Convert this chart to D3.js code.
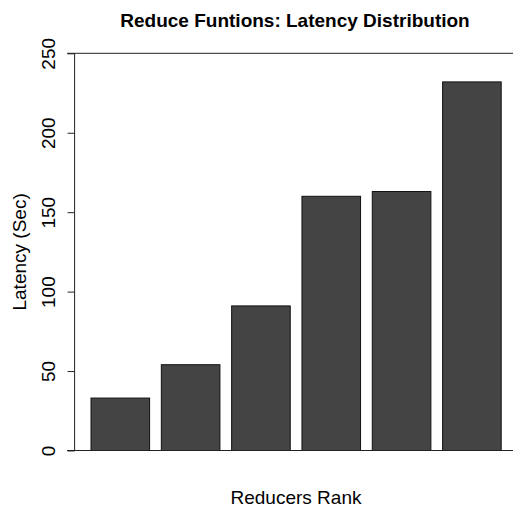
<!DOCTYPE html>
<html>
<head>
<meta charset="utf-8">
<script src="https://cdn.jsdelivr.net/npm/d3@7"></script>
<style>
  body { margin: 0; background: #fff; }
  text { font-family: "Liberation Sans", Arial, sans-serif; }
</style>
</head>
<body>
<svg width="513" height="512"></svg>
<script>
'use strict';

// reducer ranks and their latency in seconds
var ranks = [1, 2, 3, 4, 5, 6];
var latency = [33, 54, 91, 160, 163, 232];
var yTicks = [0, 50, 100, 150, 200, 250];

var W = 513, H = 512;
var FS = '19px';
var svg = d3.select('svg');

// R barplot geometry: width 1, space 0.2, xlim extended by 4%
var x = d3.scaleLinear().domain([-0.08, 7.48]).range([74.6, 517.6]);
var y = d3.scaleLinear().domain([0, 250]).range([450.5, 53.3]);

// bars
svg.selectAll('rect.bar')
  .data(ranks)
  .enter()
  .append('rect')
    .attr('class', 'bar')
    .attr('x', (d, i) => x(0.2 + i * 1.2))
    .attr('width', x(1) - x(0))
    .attr('y', (d, i) => y(latency[i]))
    .attr('height', (d, i) => y(0) - y(latency[i]))
    .style('fill', '#444444')
    .style('stroke', '#111')
    .style('stroke-width', 1);

// horizontal lines at bottom and top of the value range
svg.selectAll('line.hline')
  .data([0, 250])
  .enter()
  .append('line')
    .attr('x1', 67).attr('x2', W)
    .attr('y1', d => y(d)).attr('y2', d => y(d))
    .style('stroke', '#222')
    .style('stroke-width', 1);

// y axis, R style
var yAxis = d3.axisLeft(y).tickValues(yTicks).tickSize(7).tickPadding(0).tickFormat(d3.format('d'));
var g = svg.append('g').attr('transform', 'translate(74.6,0)').call(yAxis);
g.select('.domain').attr('d', 'M0,' + y(0) + 'V' + y(250)).style('stroke', '#222');
g.selectAll('.tick line').style('stroke', '#222');
g.selectAll('.tick text')
  .attr('transform', 'translate(-20,0) rotate(-90)')
  .attr('x', 0).attr('dy', 0).attr('y', 0)
  .style('text-anchor', 'middle')
  .style('font-size', FS)
  .style('fill', '#000');

// title and axis labels
svg.append('text')
  .attr('x', 295).attr('y', 27)
  .attr('text-anchor', 'middle')
  .style('font-size', FS)
  .style('font-weight', 'bold')
  .text('Reduce Funtions: Latency Distribution');

svg.append('text')
  .attr('x', 296).attr('y', 504)
  .attr('text-anchor', 'middle')
  .style('font-size', FS)
  .text('Reducers Rank');

svg.append('text')
  .attr('transform', 'translate(26,' + ((y(0) + y(250)) / 2) + ') rotate(-90)')
  .attr('text-anchor', 'middle')
  .style('font-size', FS)
  .text('Latency (Sec)');
</script>
</body>
</html>
